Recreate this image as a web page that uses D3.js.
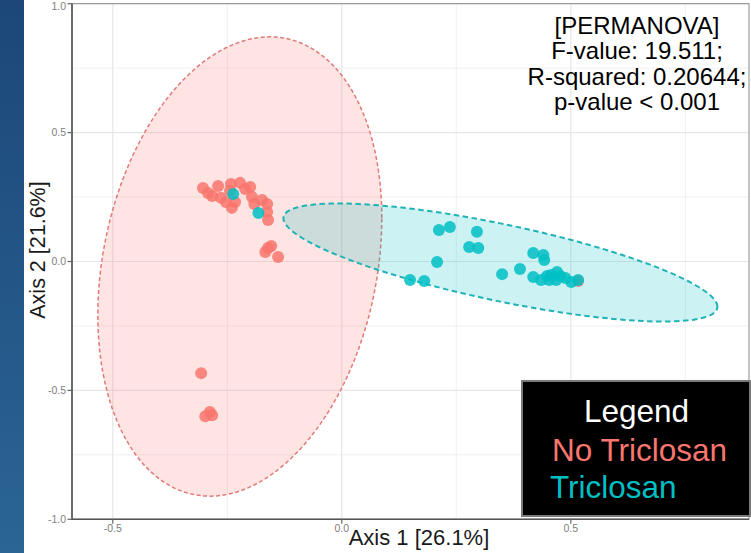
<!DOCTYPE html>
<html>
<head>
<meta charset="utf-8">
<script src="https://cdn.jsdelivr.net/npm/d3@7"></script>
<style>
html,body{margin:0;padding:0;background:#fff;}
svg{display:block;}
text{font-family:"Liberation Sans",Arial,sans-serif;}
</style>
</head>
<body>
<svg id="chart" width="751" height="553"></svg>
<script>
// ---- data ----
const groups = ["No Triclosan", "Triclosan"];
const groupColors = ["#F8766D", "#00BFC4"];

const noTriclosanX = [-0.303,-0.292,-0.283,-0.270,-0.264,-0.253,-0.242,-0.222,-0.233,-0.240,-0.244,-0.200,-0.196,-0.191,-0.174,-0.163,-0.163,-0.161,-0.161,-0.154,-0.167,-0.139,-0.307,-0.298,-0.288,-0.283,-0.211,0.516];
const noTriclosanY = [0.285,0.266,0.254,0.293,0.247,0.231,0.301,0.305,0.231,0.208,0.274,0.289,0.250,0.223,0.239,0.223,0.192,0.161,0.052,0.060,0.037,0.017,-0.433,-0.600,-0.584,-0.596,0.281,-0.076];

const triclosanX = [0.212,0.236,0.295,0.278,0.298,0.208,0.149,0.180,0.350,0.389,0.418,0.440,0.442,0.418,0.435,0.448,0.457,0.470,0.477,0.488,0.501,0.516,0.453,0.468,-0.237,-0.182];
const triclosanY = [0.122,0.134,0.115,0.056,0.052,-0.002,-0.072,-0.076,-0.049,-0.029,0.033,0.025,0.006,-0.060,-0.072,-0.056,-0.052,-0.041,-0.056,-0.064,-0.080,-0.072,-0.072,-0.072,0.262,0.188];

// ellipse parameters (data units): centre x, centre y, sd x, sd y, correlation
const ellipseCX  = [-0.2226, 0.3463];
const ellipseCY  = [-0.0194, -0.0039];
const ellipseSX  = [0.310, 0.4738];
const ellipseSY  = [0.891, 0.229];
const ellipseRho = [0.211, -0.749];

const xMajor = [-0.5, 0.0, 0.5];
const xMajorLabels = ["-0.5", "0.0", "0.5"];
const xMinor = [-0.25, 0.25, 0.75];
const yMajor = [1.0, 0.5, 0.0, -0.5, -1.0];
const yMajorLabels = ["1.0", "0.5", "0.0", "-0.5", "-1.0"];
const yMinor = [0.75, 0.25, -0.25, -0.75];

const xTitle = "Axis 1 [26.1%]";
const yTitle = "Axis 2 [21.6%]";
const annotation = ["[PERMANOVA]", "F-value: 19.511;", "R-squared: 0.20644;", "p-value < 0.001"];
const legendTitle = "Legend";

// ---- layout ----
const svg = d3.select("#chart");
const panel = {left: 72, right: 749, top: 3.7, bottom: 519.3};
const x = d3.scaleLinear().domain([-0.589, 0.889]).range([panel.left, panel.right]);
const y = d3.scaleLinear().domain([-1, 1]).range([panel.bottom, panel.top]);

// blue band
const defs = svg.append("defs");
const grad = defs.append("linearGradient").attr("id","blue").attr("x1",0).attr("y1",0).attr("x2",0).attr("y2",1);
grad.append("stop").attr("offset","0%").attr("stop-color","#1c4778");
grad.append("stop").attr("offset","100%").attr("stop-color","#2a6596");
svg.append("rect").attr("x",0).attr("y",0).attr("width",24).attr("height",553).attr("fill","url(#blue)");

const clip = defs.append("clipPath").attr("id","pclip");
clip.append("rect").attr("x",panel.left).attr("y",panel.top).attr("width",panel.right-panel.left).attr("height",panel.bottom-panel.top);

const g = svg.append("g");
// grid
const grid = g.append("g");
grid.selectAll(".vmin").data(xMinor).join("line")
  .attr("x1",d=>x(d)).attr("x2",d=>x(d)).attr("y1",panel.top).attr("y2",panel.bottom)
  .attr("stroke","#f0f0f0").attr("stroke-width",1);
grid.selectAll(".hmin").data(yMinor).join("line")
  .attr("y1",d=>y(d)).attr("y2",d=>y(d)).attr("x1",panel.left).attr("x2",panel.right)
  .attr("stroke","#f0f0f0").attr("stroke-width",1);
grid.selectAll(".vmaj").data(xMajor).join("line")
  .attr("x1",d=>x(d)).attr("x2",d=>x(d)).attr("y1",panel.top).attr("y2",panel.bottom)
  .attr("stroke","#e6e6e6").attr("stroke-width",1.2);
grid.selectAll(".hmaj").data(yMajor).join("line")
  .attr("y1",d=>y(d)).attr("y2",d=>y(d)).attr("x1",panel.left).attr("x2",panel.right)
  .attr("stroke","#e6e6e6").attr("stroke-width",1.2);

// ellipses
const plot = g.append("g").attr("clip-path","url(#pclip)");
const ts = d3.range(0, 361, 3).map(a => a*Math.PI/180);
const line = d3.line().curve(d3.curveLinearClosed);
const strokeCols = ["#e27a78", "#1fb3b6"];
const dashes = ["4,2.5", "5.5,3.5"];
const widths = [1.5, 2];
groups.forEach((grp,i) => {
  const pts = ts.map(t => {
    const dx = ellipseSX[i]*Math.cos(t);
    const dy = ellipseSY[i]*(ellipseRho[i]*Math.cos(t) + Math.sqrt(1-ellipseRho[i]*ellipseRho[i])*Math.sin(t));
    return [x(ellipseCX[i]+dx), y(ellipseCY[i]+dy)];
  });
  plot.append("path").attr("d", line(pts))
    .attr("fill", groupColors[i]).attr("fill-opacity", 0.2)
    .attr("stroke", strokeCols[i]).attr("stroke-width", widths[i])
    .attr("stroke-dasharray", dashes[i]);
});

// points
const series = [[noTriclosanX,noTriclosanY],[triclosanX,triclosanY]];
series.forEach((s,i) => {
  plot.append("g").selectAll("circle").data(d3.range(s[0].length)).join("circle")
    .attr("cx", k => x(s[0][k])).attr("cy", k => y(s[1][k])).attr("r", 6)
    .attr("fill", groupColors[i]).attr("fill-opacity", 0.85);
});

// panel border
g.append("rect").attr("x",panel.left).attr("y",panel.top).attr("width",panel.right-panel.left).attr("height",panel.bottom-panel.top)
  .attr("fill","none").attr("stroke","#8a8a8a").attr("stroke-width",1);
g.append("line").attr("x1",panel.left).attr("x2",panel.left).attr("y1",panel.top).attr("y2",panel.bottom).attr("stroke","#555").attr("stroke-width",1.6);
g.append("line").attr("x1",panel.left).attr("x2",panel.right).attr("y1",panel.bottom).attr("y2",panel.bottom).attr("stroke","#555").attr("stroke-width",1.6);

// axes ticks and labels
g.selectAll(".yt").data(yMajor).join("line")
  .attr("x1",panel.left-4.5).attr("x2",panel.left).attr("y1",d=>y(d)).attr("y2",d=>y(d))
  .attr("stroke","#666").attr("stroke-width",1.2);
g.selectAll(".yl").data(yMajor).join("text")
  .attr("x",panel.left-6).attr("y",d=>Math.max(y(d), 6.5)).attr("dy","0.35em").attr("text-anchor","end")
  .attr("font-size",10.5).attr("fill","#808080").text((d,k)=>yMajorLabels[k]);
g.selectAll(".xt").data(xMajor).join("line")
  .attr("x1",d=>x(d)).attr("x2",d=>x(d)).attr("y1",panel.bottom).attr("y2",panel.bottom+4.5)
  .attr("stroke","#666").attr("stroke-width",1.2);
g.selectAll(".xl").data(xMajor).join("text")
  .attr("x",d=>x(d)).attr("y",panel.bottom+13).attr("text-anchor","middle")
  .attr("font-size",10.5).attr("fill","#808080").text((d,k)=>xMajorLabels[k]);

// axis titles
svg.append("text").attr("x",419).attr("y",545).attr("text-anchor","middle")
  .attr("font-size",22).attr("fill","#1a1a1a").text(xTitle);
svg.append("text").attr("transform","translate(45,250) rotate(-90)").attr("text-anchor","middle")
  .attr("font-size",21.5).attr("fill","#1a1a1a").text(yTitle);

// annotation
svg.append("g").selectAll("text").data(annotation).join("text")
  .attr("x",637).attr("y",(d,k)=>34+k*25.3).attr("text-anchor","middle")
  .attr("font-size",24).attr("fill","#000").text(d=>d);

// legend
const lg = svg.append("g");
lg.append("rect").attr("x",522).attr("y",381).attr("width",228).attr("height",135)
  .attr("fill","#000").attr("stroke","#7a7a7a").attr("stroke-width",2);
lg.append("text").attr("x",636.5).attr("y",421.7).attr("text-anchor","middle")
  .attr("font-size",31.5).attr("fill","#fff").text(legendTitle);
lg.selectAll(".li").data(groups).join("text")
  .attr("x",(d,k)=>552-2*k).attr("y",(d,k)=>460.7+k*37.3)
  .attr("font-size",31.5).attr("fill",(d,k)=>groupColors[k]).text(d=>d);
</script>
</body>
</html>
